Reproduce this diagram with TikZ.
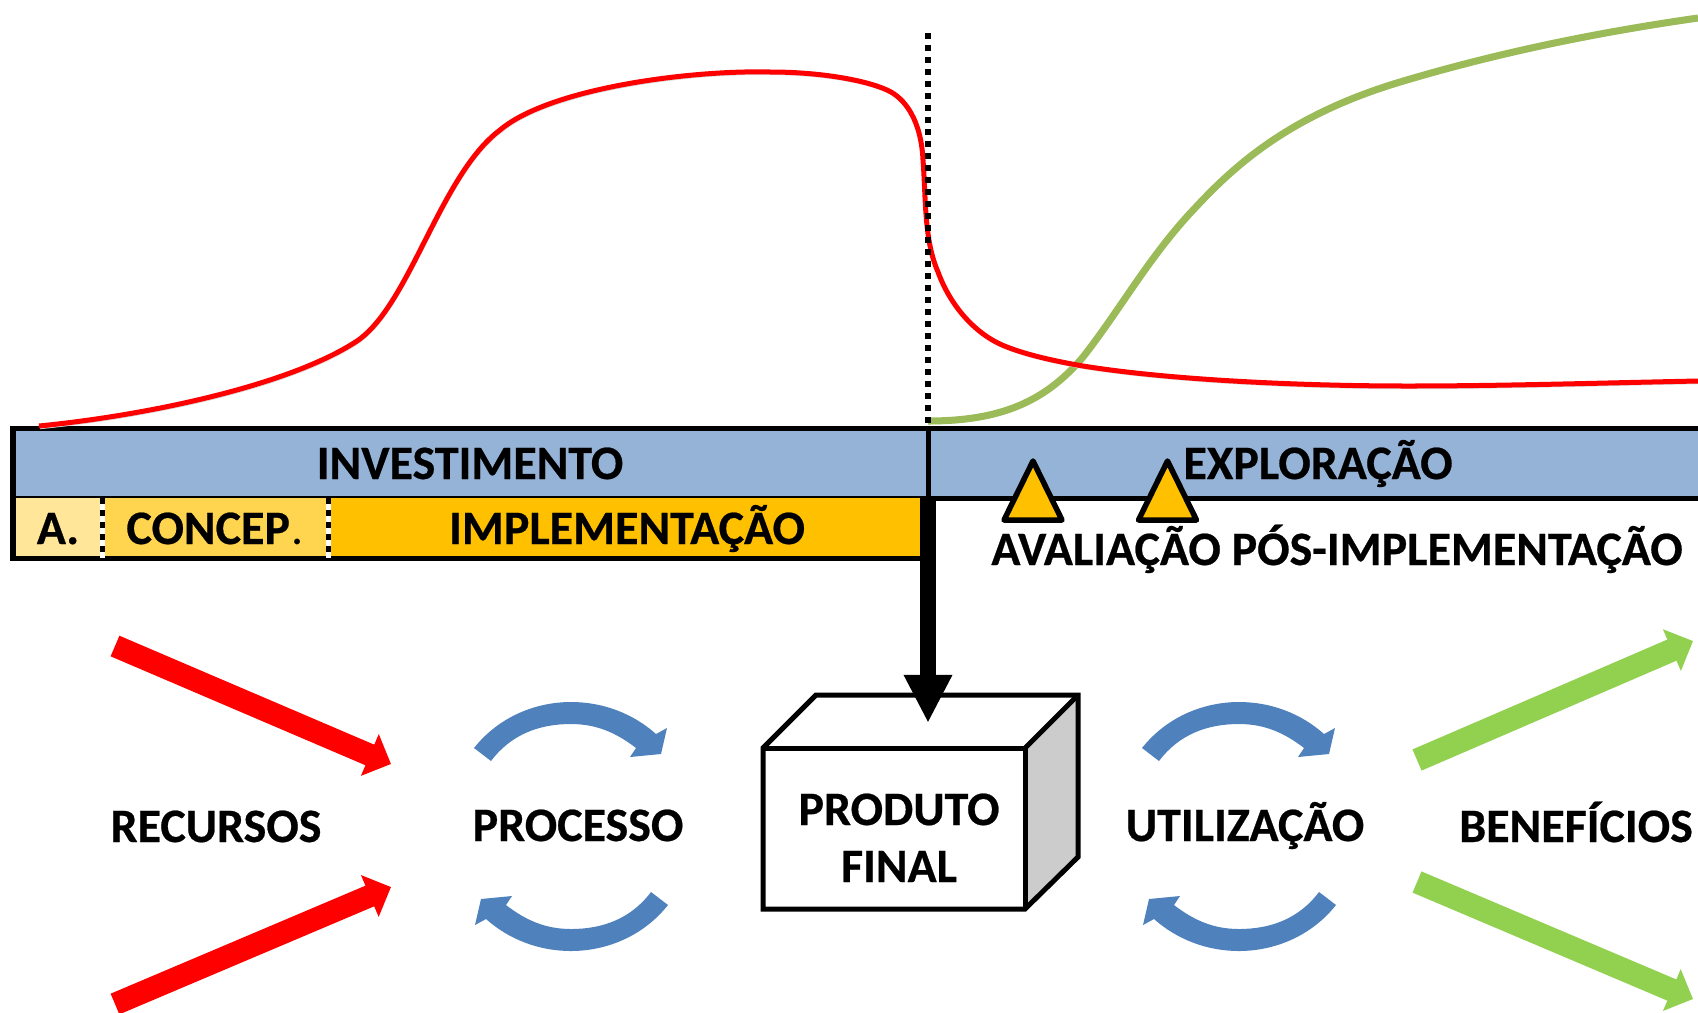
\documentclass[tikz,border=0pt]{standalone}
\usepackage{fontspec}
\usepackage{tikz}
\usepackage{color}
\setmainfont{Carlito}[BoldFeatures={FakeBold=0.5}]
\usetikzlibrary{arrows.meta}
\definecolor{azulbarra}{HTML}{95B3D7}
\definecolor{azulciclo}{HTML}{4F81BD}
\definecolor{amarelo1}{HTML}{FFE699}
\definecolor{amarelo2}{HTML}{FFD54F}
\definecolor{amarelo3}{HTML}{FFC000}
\definecolor{verdecurva}{HTML}{9BBB59}
\definecolor{verdeseta}{HTML}{92D050}
\tikzset{
  rotulo/.style={font=\fontsize{13.65}{16}\selectfont\bfseries, anchor=base, inner sep=0pt},
  barra/.style={draw=black, line width=0.05cm},
  pontos/.style={black, line width=0.06cm, dash pattern=on 1.707pt off 1.707pt},
  sombra/.style={preaction={draw=black!15, transform canvas={xshift=0.3pt,yshift=-0.7pt}}},
  setared/.style={red, line width=0.224cm, -{Triangle[length=0.23cm,width=0.44cm]}},
  setaverde/.style={verdeseta, line width=0.23cm, -{Triangle[length=0.23cm,width=0.44cm]}},
  seta final/.style={black, line width=0.157cm, -{Triangle[length=0.48cm,width=0.45cm]}},
  marco/.style={draw=black, fill=amarelo3, line width=0.055cm, line join=round}
}
\begin{document}
\begin{tikzpicture}[x=0.01cm,y=-0.01cm]
\useasboundingbox (0,0) rectangle (1698,1012);
\clip (0,0) rectangle (1698,1012);

% barras
\draw[barra,fill=azulbarra] (13,428) rectangle (928,498);
\draw[barra,fill=azulbarra] (928,428) rectangle (1720,498);
\fill[amarelo1] (13,498) rectangle (102,558);
\fill[amarelo2] (102,498) rectangle (328,558);
\fill[amarelo3] (328,498) rectangle (921,558);
\draw[barra] (921,558) -- (13,558) -- (13,498);
\foreach \sx in {102,328} {
  \draw[white, line width=0.05cm] (\sx,498) -- (\sx,558);
  \draw[pontos, line width=0.05cm] (\sx,498) -- (\sx,558);
}

% curvas
\draw[verdecurva, line width=0.07cm, sombra] (928,421) .. controls (1000,421) and (1045,402) .. (1083,357) .. controls (1120,310) and (1150,255) .. (1195,208) .. controls (1235,165) and (1290,115) .. (1400,82) .. controls (1500,52) and (1600,32) .. (1698,18);
\draw[red, line width=0.05cm, sombra] (39,426) .. controls (150,415) and (290,385) .. (357,341) .. controls (410,305) and (440,175) .. (500,130) .. controls (550,88) and (690,70) .. (770,72) .. controls (820,72) and (865,80) .. (887,90) .. controls (905,98) and (921,120) .. (923,160) .. controls (926,200) and (924,240) .. (938,272) .. controls (950,305) and (975,335) .. (1007,347) .. controls (1030,356) and (1060,362) .. (1083,366) .. controls (1170,380) and (1300,386) .. (1408,386) .. controls (1500,386) and (1600,383) .. (1698,381);
\draw[pontos] (928,33) -- (928,427);

% avaliacoes
\foreach \tx in {1033,1167.5} {
  \draw[marco] (\tx,461) -- (\tx+29,520) -- (\tx-29,520) -- cycle;
}

\node[rotulo] (investimento) at (470,479) {INVESTIMENTO};
\node[rotulo] (exploracao) at (1318,479) {EXPLORAÇÃO};
\node[rotulo] (a) at (58,544) {A.};
\node[rotulo] (concep) at (215,544) {CONCEP\kern0.03em{\mdseries.}};
\node[rotulo] (implementacao) at (627,544) {IMPLEMENTAÇÃO};
\node[rotulo] (avaliacao) at (1337,565) {AVALIAÇÃO PÓS-IMPLEMENTAÇÃO};

% setas
\coordinate (r1) at (115,646);
\coordinate (r2) at (391,764);
\coordinate (r3) at (115,1004);
\coordinate (r4) at (391,887);
\draw[setared] (r1) -- (r2);
\draw[setared] (r3) -- (r4);
\coordinate (v1) at (1417,760);
\coordinate (v2) at (1693,641);
\coordinate (v3) at (1417,882);
\coordinate (v4) at (1693,999);
\draw[setaverde] (v1) -- (v2);
\draw[setaverde] (v3) -- (v4);

\foreach \cx in {571,1239} {
  \foreach \ang in {0,180} {
    \fill[azulciclo, shift={(\cx,826.5)}, rotate=\ang] (-97,-78.5) .. controls (-72,-110) and (-35,-124.5) .. (0,-124.5) .. controls (32,-124.5) and (62,-113) .. (85,-92.5) -- (96,-98.5) -- (90,-72.5) -- (59,-69.5) -- (65,-78.5) .. controls (45,-94) and (25,-102.5) .. (0,-102.5) .. controls (-32,-102.5) and (-60,-92) .. (-80,-65.5) -- cycle;
  }
}

\node[rotulo] (recursos) at (216,842) {RECURSOS};
\node[rotulo] (processo) at (578,841) {PROCESSO};
\node[rotulo] (utilizacao) at (1245,841) {UTILIZAÇÃO};
\node[rotulo] (beneficios) at (1576,842) {BENEFÍCIOS};

% caixa
\fill[white] (763,748) -- (816,695) -- (1078,695) -- (1025,748) -- cycle;
\fill[black!20] (1025,748) -- (1078,695) -- (1078,857) -- (1025,909) -- cycle;
\draw[barra, line join=miter] (763,748) -- (816,695) -- (1078,695) -- (1078,857) -- (1025,909) -- (763,909) -- cycle;
\draw[barra] (763,748) -- (1025,748) -- (1025,909);
\draw[barra] (1025,748) -- (1078,695);
\node[rotulo] (produto) at (899,825) {PRODUTO};
\node[rotulo] (final) at (899,882) {FINAL};

\coordinate (f1) at (928,498);
\coordinate (f2) at (928,723);
\draw[seta final] (f1) -- (f2);
\end{tikzpicture}
\end{document}
